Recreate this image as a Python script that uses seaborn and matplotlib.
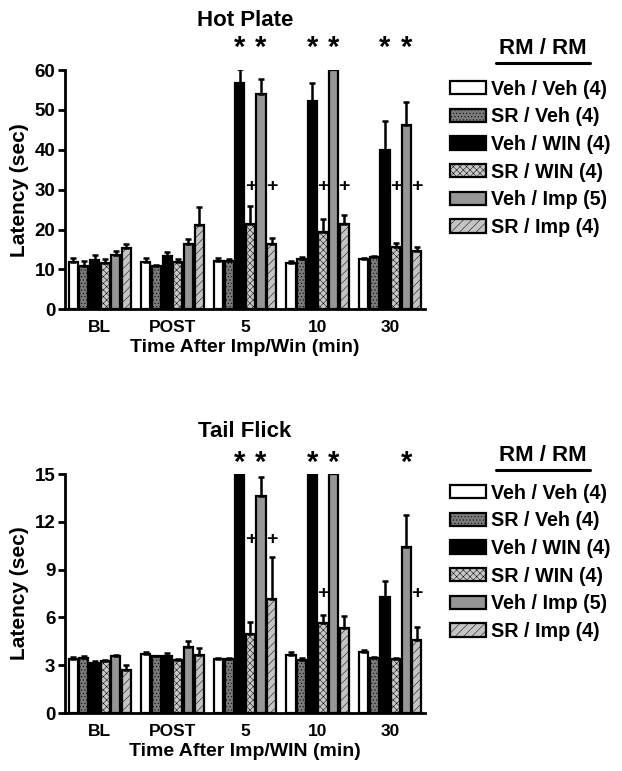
import numpy as np
import pandas as pd
import matplotlib
matplotlib.use('Agg')
import matplotlib.pyplot as plt
import seaborn as sns
from matplotlib.patches import Patch
from matplotlib.lines import Line2D

# categories
times = ['BL', 'POST', '5', '10', '30']
groups = ['Veh / Veh (4)', 'SR / Veh (4)', 'Veh / WIN (4)',
          'SR / WIN (4)', 'Veh / Imp (5)', 'SR / Imp (4)']

# hot plate latency (sec), one row per group, columns = times
hp_mean = [[11.8, 11.9, 12.2, 11.7, 12.5],
           [10.8, 10.8, 12.0, 12.6, 13.0],
           [12.3, 13.4, 56.8, 52.2, 39.9],
           [11.5, 11.9, 21.4, 19.4, 15.6],
           [13.5, 16.3, 54.1, 60.0, 46.3],
           [15.4, 21.1, 16.4, 21.3, 14.5]]
hp_sem = [[1.0, 1.0, 0.7, 0.4, 0.3],
          [1.3, 0.4, 0.5, 0.6, 0.3],
          [1.3, 1.0, 3.5, 4.7, 7.3],
          [1.1, 0.6, 4.4, 3.2, 1.1],
          [1.2, 1.4, 3.8, 0.0, 5.8],
          [0.9, 4.6, 1.5, 2.4, 1.2]]

# tail flick latency (sec)
tf_mean = [[3.40, 3.70, 3.40, 3.64, 3.85],
           [3.45, 3.55, 3.40, 3.35, 3.45],
           [3.15, 3.60, 15.0, 15.0, 7.26],
           [3.25, 3.30, 4.94, 5.63, 3.40],
           [3.55, 4.16, 13.6, 15.0, 10.4],
           [2.70, 3.64, 7.14, 5.32, 4.58]]
tf_sem = [[0.10, 0.10, 0.08, 0.20, 0.10],
          [0.10, 0.05, 0.08, 0.08, 0.05],
          [0.10, 0.15, 0.0, 0.0, 1.05],
          [0.05, 0.08, 0.80, 0.52, 0.08],
          [0.08, 0.38, 1.20, 0.0, 2.03],
          [0.30, 0.42, 2.66, 0.78, 0.80]]

# significance marks: (time index, group index)
hp_stars = [(2, 2), (2, 4), (3, 2), (3, 4), (4, 2), (4, 4)]
hp_plus = [(2, 3), (2, 5), (3, 3), (3, 5), (4, 3), (4, 5)]
tf_stars = [(2, 2), (2, 4), (3, 2), (3, 4), (4, 4)]
tf_plus = [(2, 3), (2, 5), (3, 3), (4, 5)]

colors = ['#ffffff', '#7a7a7a', '#000000', '#c8c8c8', '#969696', '#c4c4c4']
hatches = [None, '.....', None, 'xxxxx', None, '////']
hatch_colors = [None, '#303030', None, '#202020', None, '#8a8a8a']

sns.set_theme(style='ticks')
plt.rcParams['font.family'] = ['Liberation Sans', 'DejaVu Sans']
plt.rcParams['font.weight'] = 'bold'
plt.rcParams['hatch.linewidth'] = 0.35
for key in ['text.color', 'axes.labelcolor', 'xtick.color', 'ytick.color',
            'axes.edgecolor']:
    plt.rcParams[key] = 'black'


def style_patch(p, g):
    if hatches[g]:
        p.set_hatch(hatches[g])
        if hasattr(p, 'set_hatchcolor'):
            p.set_hatchcolor(hatch_colors[g])


def to_long(means, sems):
    rows = []
    for g, name in enumerate(groups):
        for t, tm in enumerate(times):
            rows.append({'time': tm, 'group': name,
                         'latency': means[g][t], 'sem': sems[g][t]})
    return pd.DataFrame(rows)


def draw_panel(ax, means, sems, ymax, ystep, title, title_pad, xlabel,
               stars, star_y, plus, plus_y):
    df = to_long(means, sems)
    sns.barplot(data=df, x='time', y='latency', hue='group',
                order=times, hue_order=groups,
                palette=dict(zip(groups, colors)),
                width=0.88, gap=0.14, errorbar=None,
                edgecolor='black', linewidth=1.6, legend=False, ax=ax)
    bars = list(ax.containers[:len(groups)])
    for g, cont in enumerate(bars):
        for t, bar in enumerate(cont):
            style_patch(bar, g)
            err = sems[g][t]
            if err > 0:
                x = bar.get_x() + bar.get_width() / 2
                ax.errorbar(x, bar.get_height(), yerr=[[0], [err]],
                            fmt='none', ecolor='black', elinewidth=1.8,
                            capsize=2.5, capthick=1.8, zorder=1)
    for t, g in stars:
        bar = bars[g][t]
        ax.text(bar.get_x() + bar.get_width() / 2, star_y, '*',
                ha='center', va='center', fontsize=21, fontweight='bold',
                clip_on=False)
    for i, (t, g) in enumerate(plus):
        bar = bars[g][t]
        ax.text(bar.get_x() + bar.get_width() / 2, plus_y[i], '+',
                ha='center', va='center', fontsize=14, fontweight='bold')
    ax.set_ylim(0, ymax)
    ax.set_xlim(-0.48, len(times) - 0.52)
    ax.set_yticks(np.arange(0, ymax + 0.1, ystep))
    ax.set_title(title, fontsize=16, fontweight='bold', pad=title_pad)
    ax.set_xlabel(xlabel, fontsize=14, fontweight='bold', labelpad=3)
    ax.set_ylabel('Latency (sec)', fontsize=15, fontweight='bold', labelpad=4)
    ax.tick_params(axis='y', labelsize=13.5, width=2, length=5, pad=2)
    ax.tick_params(axis='x', labelsize=12.5, length=0, pad=8)
    for lab in ax.get_xticklabels() + ax.get_yticklabels():
        lab.set_fontweight('bold')
    sns.despine(ax=ax)
    ax.spines['left'].set_linewidth(2)
    ax.spines['bottom'].set_linewidth(2)


fig = plt.figure(figsize=(6.22, 7.71), dpi=100)
ax1 = fig.add_axes([0.1045, 0.599, 0.579, 0.31])
ax2 = fig.add_axes([0.1045, 0.0752, 0.579, 0.31])

draw_panel(ax1, hp_mean, hp_sem, 60, 10, 'Hot Plate', 32,
           'Time After Imp/Win (min)', hp_stars, 65.6,
           hp_plus, [30.9] * 6)
draw_panel(ax2, tf_mean, tf_sem, 15, 3, 'Tail Flick', 27,
           'Time After Imp/WIN (min)', tf_stars, 15.7,
           tf_plus, [10.9, 10.9, 7.5, 7.5])

handles = []
for g, c in enumerate(colors):
    p = Patch(facecolor=c, edgecolor='black', linewidth=1.6)
    style_patch(p, g)
    handles.append(p)

for ytitle, yline, yleg in [(0.937, 0.918, 0.907), (0.409, 0.390, 0.383)]:
    fig.text(0.873, ytitle, 'RM / RM', ha='center', va='center',
             fontsize=16, fontweight='bold')
    fig.add_artist(Line2D([0.797, 0.949], [yline, yline],
                          color='black', linewidth=2.2,
                          transform=fig.transFigure))
    fig.legend(handles, groups, loc='upper left',
               bbox_to_anchor=(0.71, yleg), frameon=False,
               handlelength=1.85, handleheight=0.65,
               handletextpad=0.25, labelspacing=0.44, borderaxespad=0,
               prop={'weight': 'bold', 'size': 14.2})

fig.savefig('out.png', dpi=100)
